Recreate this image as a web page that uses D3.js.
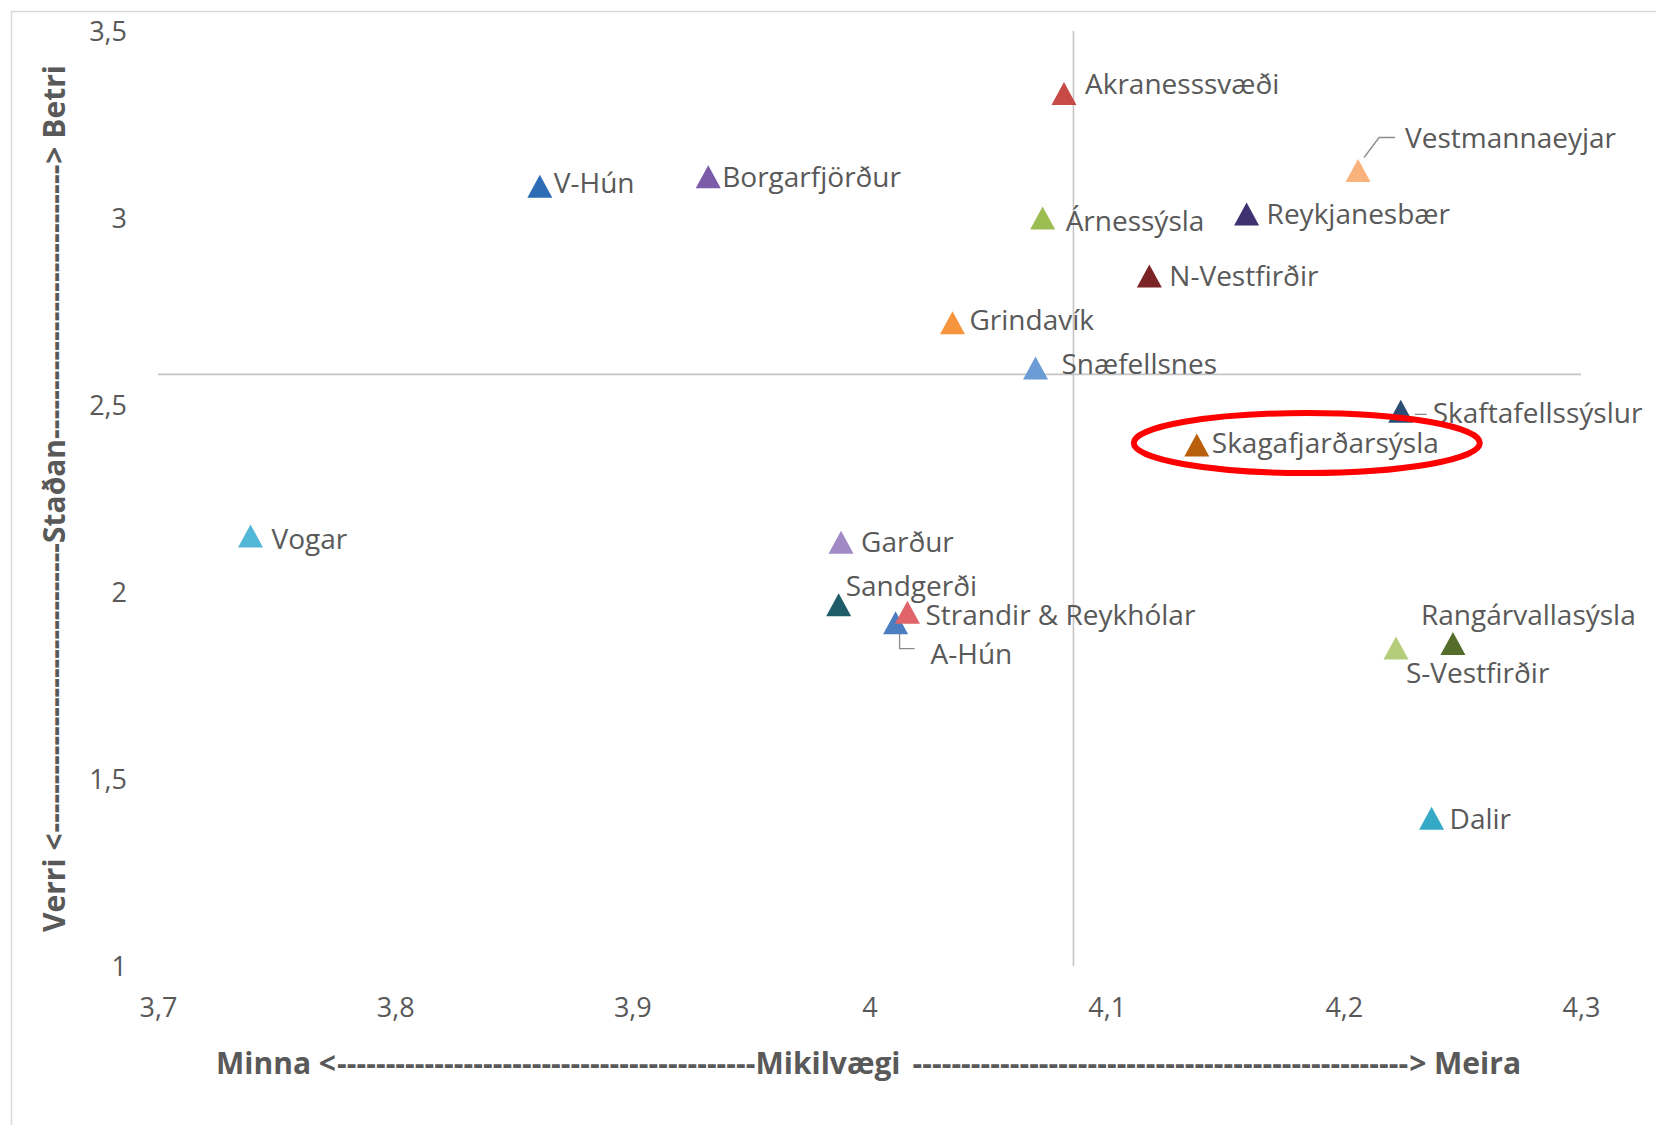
<!DOCTYPE html>
<html>
<head>
<meta charset="utf-8">
<script src="https://cdn.jsdelivr.net/npm/d3@7"></script>
<style>
  html, body { margin: 0; padding: 0; background: #ffffff; }
  svg { display: block; }
  text { font-family: "Open Sans", "DejaVu Sans", sans-serif; }
</style>
</head>
<body>
<svg id="chart" width="1656" height="1125"></svg>
<script>
// ---------------- data ----------------
const regions = [
  "V-Hún", "Borgarfjörður", "Akranesssvæði", "Vestmannaeyjar", "Árnessýsla",
  "Reykjanesbær", "N-Vestfirðir", "Grindavík", "Snæfellsnes", "Skaftafellssýslur",
  "Skagafjarðarsýsla", "Vogar", "Garður", "Sandgerði", "A-Hún",
  "Strandir & Reykhólar", "Rangárvallasýsla", "S-Vestfirðir", "Dalir"
];
// Mikilvægi (importance, x)
const importance = [
  3.861, 3.932, 4.082, 4.206, 4.073,
  4.159, 4.118, 4.035, 4.070, 4.224,
  4.138, 3.739, 3.988, 3.987, 4.011,
  4.016, 4.246, 4.222, 4.237
];
// Staðan (status, y)
const status = [
  3.085, 3.110, 3.333, 3.127, 3.000,
  3.011, 2.845, 2.720, 2.599, 2.483,
  2.393, 2.150, 2.133, 1.966, 1.918,
  1.946, 1.862, 1.850, 1.395
];
const markerColors = [
  "#2d6db5", "#7c5ba8", "#c84a47", "#f9b27c", "#9bbd52",
  "#3e3170", "#7a2426", "#f7953f", "#6c9cd6", "#2b4c74",
  "#b8600c", "#52b6d6", "#a189c6", "#1f5c69", "#4a7ec0",
  "#e0646a", "#546d2a", "#b3cd7a", "#35a9c6"
];
const xTicks = [3.7, 3.8, 3.9, 4.0, 4.1, 4.2, 4.3];
const yTicks = [1, 1.5, 2, 2.5, 3, 3.5];
const meanImportance = 4.086;
const meanStatus = 2.582;
const highlighted = "Skagafjarðarsýsla";

// ---------------- layout (label placement, not data) ----------------
const labelLayout = {
  "V-Hún": {dx: 14, dy: -3},
  "Borgarfjörður": {dx: 14, dy: 0},
  "Akranesssvæði": {dx: 21, dy: -9},
  "Vestmannaeyjar": {dx: 47, dy: -32, leader: [[6,-13],[21,-33],[37,-33]]},
  "Árnessýsla": {dx: 23, dy: 3},
  "Reykjanesbær": {dx: 20, dy: 0},
  "N-Vestfirðir": {dx: 20, dy: 0},
  "Grindavík": {dx: 17, dy: -3},
  "Snæfellsnes": {dx: 26, dy: -4},
  "Skaftafellssýslur": {dx: 32, dy: 2, leader: [[14,3],[26,3]]},
  "Skagafjarðarsýsla": {dx: 15, dy: -2},
  "Vogar": {dx: 21, dy: 3},
  "Garður": {dx: 20, dy: 0},
  "Sandgerði": {dx: 7, dy: -19},
  "A-Hún": {dx: 35, dy: 32, leader: [[4,11],[4,26],[19,26]]},
  "Strandir & Reykhólar": {dx: 18, dy: 3},
  "Rangárvallasýsla": {dx: -32, dy: -28},
  "S-Vestfirðir": {dx: 10, dy: 25},
  "Dalir": {dx: 18, dy: 1}
};

const points = regions.map((name, i) => ({
  name, x: importance[i], y: status[i], color: markerColors[i]
}));

// ---------------- chart ----------------
const svg = d3.select("#chart");
const textColor = "#595959";

const x = d3.scaleLinear().domain([3.7, 4.3]).range([158, 1581]);
const y = d3.scaleLinear().domain([1, 3.5]).range([966, 31]);
const fmt = d => String(d).replace(".", ",");

// outer chart border
svg.append("rect")
  .attr("x", 11.5).attr("y", 11.5)
  .attr("width", 1700).attr("height", 1200)
  .attr("fill", "none").attr("stroke", "#d9d9d9").attr("stroke-width", 1.5);

// x axis (labels only)
const xAxis = d3.axisBottom(x).tickValues(xTicks).tickFormat(fmt).tickSize(0).tickPadding(0);
const gx = svg.append("g").call(xAxis);
gx.select(".domain").remove();
gx.selectAll("text")
  .attr("y", 1008).attr("dy", "0.35em")
  .attr("fill", textColor).style("font-size", "27px")
  .style("font-family", "'Open Sans', sans-serif");

// y axis (labels only)
const yAxis = d3.axisLeft(y).tickValues(yTicks).tickFormat(fmt).tickSize(0).tickPadding(0);
const gy = svg.append("g").attr("transform", "translate(127,0)").call(yAxis);
gy.select(".domain").remove();
gy.selectAll("text")
  .attr("x", 0).attr("dy", "0.35em")
  .attr("fill", textColor).style("font-size", "27px")
  .style("font-family", "'Open Sans', sans-serif");

// mean reference lines
svg.append("line")
  .attr("x1", x(3.7)).attr("x2", x(4.3))
  .attr("y1", y(meanStatus)).attr("y2", y(meanStatus))
  .attr("stroke", "#c4c4c4").attr("stroke-width", 1.6);
svg.append("line")
  .attr("x1", x(meanImportance)).attr("x2", x(meanImportance))
  .attr("y1", y(3.5)).attr("y2", y(1))
  .attr("stroke", "#c4c4c4").attr("stroke-width", 1.6);

// markers
const triW = 25, triH = 23;
const tri = `M0,${-triH/2}L${triW/2},${triH/2}L${-triW/2},${triH/2}Z`;
svg.append("g").selectAll("path")
  .data(points)
  .join("path")
  .attr("d", tri)
  .attr("transform", d => `translate(${x(d.x)},${y(d.y)})`)
  .attr("fill", d => d.color);

// leader lines
const leaderLine = d3.line();
svg.append("g").selectAll("path")
  .data(points.filter(d => labelLayout[d.name].leader))
  .join("path")
  .attr("d", d => leaderLine(labelLayout[d.name].leader.map(([dx, dy]) => [x(d.x) + dx, y(d.y) + dy])))
  .attr("fill", "none").attr("stroke", "#8c8c8c").attr("stroke-width", 1.3);

// data labels
svg.append("g").selectAll("text")
  .data(points)
  .join("text")
  .attr("x", d => x(d.x) + labelLayout[d.name].dx)
  .attr("y", d => y(d.y) + labelLayout[d.name].dy)
  .attr("dy", "0.35em")
  .attr("fill", textColor)
  .style("font-size", "28px")
  .text(d => d.name);

// highlight ellipse
const hp = points.find(d => d.name === highlighted);
svg.append("ellipse")
  .attr("cx", x(hp.x) + 110).attr("cy", y(hp.y) - 2)
  .attr("rx", 173).attr("ry", 30)
  .attr("fill", "none").attr("stroke", "#ff0000").attr("stroke-width", 6);

// ---------------- axis titles built from dashes ----------------
function dashedTitle(g, left, mid, midGapBefore, midGapAfter, right, start, midCenter, end, baseline) {
  const style = t => t.attr("fill", textColor).style("font-size", "30px").style("font-weight", "700")
    .style("font-family", "'Open Sans', sans-serif");
  const tl = g.append("text").attr("x", start).attr("y", baseline).text(left).call(style);
  const tm = g.append("text").attr("x", midCenter).attr("y", baseline).attr("text-anchor", "middle").text(mid).call(style);
  const tr = g.append("text").attr("x", end).attr("y", baseline).attr("text-anchor", "end").text(right).call(style);
  const probe = g.append("text").text("-".repeat(20)).call(style);
  const hw = probe.node().getComputedTextLength() / 20;
  probe.remove();
  const lEnd = start + tl.node().getComputedTextLength() + 1;
  const mw = tm.node().getComputedTextLength();
  const mStart = midCenter - mw / 2 - midGapBefore, mEnd = midCenter + mw / 2 + midGapAfter;
  const rStart = end - tr.node().getComputedTextLength() - 1;
  [[lEnd, mStart], [mEnd, rStart]].forEach(([a, b]) => {
    const n = Math.max(1, Math.round((b - a) / hw));
    g.append("text").attr("x", a).attr("y", baseline)
      .attr("textLength", b - a).attr("lengthAdjust", "spacing")
      .text("-".repeat(n)).call(style);
  });
}

// x title
dashedTitle(svg.append("g"), "Minna <", "Mikilvægi", 0, 12, "> Meira", 216, 828, 1521, 1074);
// y title (rotated)
const gyt = svg.append("g").attr("transform", "rotate(-90)");
dashedTitle(gyt, "Verri <", "Staðan", 0, 0, "> Betri", -932, -491, -65, 65);
</script>
</body>
</html>
